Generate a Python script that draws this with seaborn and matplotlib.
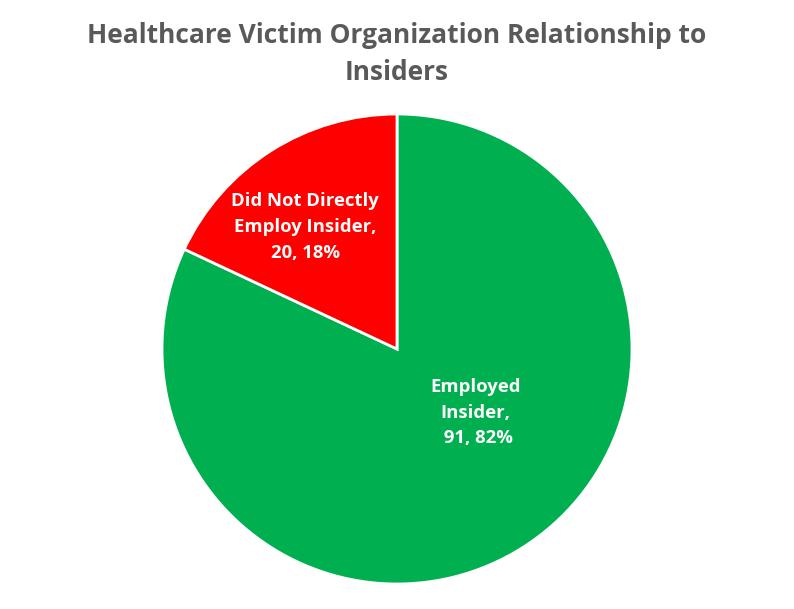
import numpy as np
import matplotlib
matplotlib.use("Agg")
import matplotlib.pyplot as plt
import seaborn as sns

# Data
categories = ["Employed\nInsider,", "Did Not Directly\nEmploy Insider,"]
counts = [91, 20]
percents = [82, 18]
colors = ["#00B050", "#FF0000"]
title = "Healthcare Victim Organization Relationship to\nInsiders"

sns.set_theme(style="white")
plt.rcParams['font.family'] = ['Open Sans', 'DejaVu Sans']

W, H = 794, 609
fig = plt.figure(figsize=(W / 100, H / 100), dpi=100)
fig.patch.set_facecolor("white")

cx, cy, r = 397, 609 - 349, 235
ax = fig.add_axes([(cx - r) / W, (cy - r) / H, 2 * r / W, 2 * r / H])
wedges, _ = ax.pie(counts, colors=colors, startangle=90, counterclock=False,
                   radius=1.0, wedgeprops=dict(edgecolor="white", linewidth=2))
ax.set_xlim(-1, 1)
ax.set_ylim(-1, 1)
ax.set_aspect("equal")
ax.axis("off")

# label placement (radius fraction, angle in degrees)
label_pos = [(0.43, -39), (0.65, 127)]
prefixes = [" ", ""]
for cat, c, p, (d, a), pre in zip(categories, counts, percents, label_pos, prefixes):
    x = d * np.cos(np.radians(a))
    y = d * np.sin(np.radians(a))
    ax.text(x, y, f"{cat}\n{pre}{c}, {p}%", ha="center", va="center",
            color="white", fontsize=13.3, fontweight="bold", linespacing=1.55)

fig.text(0.5, 1 - 54 / H, title, ha="center", va="center", fontsize=19,
         fontweight="bold", color="#595959", linespacing=1.5)

fig.savefig("out.png", dpi=100, facecolor="white")
